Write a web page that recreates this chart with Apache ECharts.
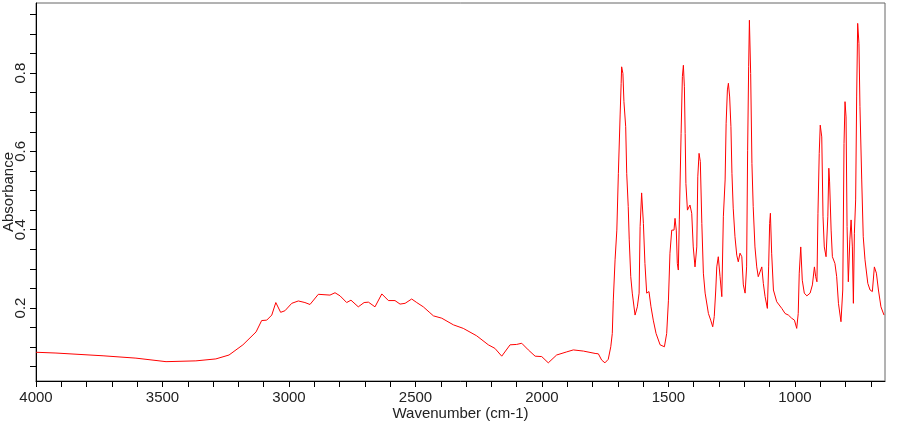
<!DOCTYPE html>
<html>
<head>
<meta charset="utf-8">
<script src="https://cdn.jsdelivr.net/npm/echarts@6/dist/echarts.min.js"></script>
<style>
  html, body { margin: 0; padding: 0; background: #fff; }
  #chart { width: 900px; height: 425px; }
</style>
</head>
<body>
<div id="chart"></div>
<script>
// IR spectrum (cm-1 / absorbance)
const wavenumbers = [
  4000, 3921, 3735, 3605, 3486, 3368, 3289, 3237, 3182, 3130,
  3108, 3088, 3068, 3052, 3033, 3016, 2989, 2963, 2937, 2917,
  2884, 2838, 2818, 2798, 2772, 2755, 2726, 2703, 2686, 2660,
  2633, 2607, 2581, 2561, 2541, 2515, 2495, 2469, 2443,
  2429, 2396, 2350, 2311, 2258, 2212, 2186, 2159, 2126, 2100,
  2080, 2054, 2027, 2001, 1975, 1942, 1902, 1876, 1836,
  1790, 1777, 1764, 1751, 1738, 1728, 1722, 1718, 1711, 1704,
  1698, 1691, 1687, 1685, 1680, 1676, 1669, 1665, 1659, 1655,
  1649, 1643, 1632, 1623, 1616, 1612, 1606, 1599, 1593, 1586,
  1577, 1569, 1560, 1549, 1533, 1516, 1507, 1500, 1494, 1487,
  1478, 1474, 1469, 1465, 1461, 1457, 1450, 1445, 1441, 1437,
  1434, 1431, 1425, 1415, 1408, 1402, 1395,
  1388, 1384, 1379, 1374, 1368, 1362, 1355, 1342, 1333, 1325,
  1319, 1313, 1309, 1303, 1296, 1289, 1283, 1276, 1272, 1267,
  1263, 1258, 1253, 1249, 1244, 1237, 1230, 1224, 1217, 1210,
  1204, 1197, 1191, 1187, 1183, 1180, 1175, 1170, 1165, 1158,
  1151, 1145, 1138, 1131, 1125, 1118, 1109, 1104, 1100, 1097,
  1092, 1085, 1072, 1052, 1039,
  1026, 1013, 1002, 993, 987, 983, 977, 971, 963, 953,
  940, 931, 923, 918, 913, 909, 904, 900, 894, 889,
  884, 877, 870, 866, 863, 857, 852, 842, 835, 828,
  818, 811, 806, 802, 798, 794, 789, 783, 778, 773,
  769, 765, 760, 756, 752, 747, 743, 736, 730, 723,
  712, 703, 694, 686, 678, 670, 660, 648
];
const absorbance = [
  0.087, 0.085, 0.078, 0.072, 0.063, 0.065, 0.070, 0.080, 0.106, 0.139,
  0.168, 0.169, 0.182, 0.214, 0.189, 0.193, 0.212, 0.218, 0.214, 0.209,
  0.235, 0.233, 0.239, 0.231, 0.214, 0.220, 0.203, 0.214, 0.215, 0.203,
  0.236, 0.219, 0.219, 0.210, 0.212, 0.223, 0.214, 0.203, 0.188,
  0.180, 0.174, 0.157, 0.148, 0.129, 0.106, 0.097, 0.077, 0.106, 0.107,
  0.110, 0.093, 0.077, 0.076, 0.060, 0.080, 0.088, 0.093, 0.090,
  0.084, 0.083, 0.067, 0.060, 0.069, 0.101, 0.135, 0.220, 0.323, 0.399,
  0.544, 0.693, 0.774, 0.816, 0.799, 0.727, 0.663, 0.544, 0.459, 0.374,
  0.280, 0.238, 0.182, 0.203, 0.238, 0.408, 0.494, 0.416, 0.314, 0.238,
  0.242, 0.203, 0.169, 0.135, 0.106, 0.101, 0.135, 0.220, 0.340, 0.399,
  0.399, 0.429, 0.399, 0.314, 0.297, 0.425, 0.646, 0.791, 0.820, 0.765,
  0.646, 0.518, 0.450, 0.463, 0.442, 0.356, 0.305,
  0.356, 0.535, 0.595, 0.574, 0.416, 0.289, 0.238, 0.186, 0.169, 0.152,
  0.178, 0.246, 0.305, 0.331, 0.280, 0.229, 0.433, 0.527, 0.672, 0.757,
  0.774, 0.739, 0.663, 0.544, 0.455, 0.382, 0.335, 0.318, 0.340, 0.331,
  0.259, 0.238, 0.305, 0.603, 0.816, 0.935, 0.799, 0.569, 0.459, 0.356,
  0.305, 0.280, 0.276, 0.305, 0.263, 0.229, 0.199, 0.305, 0.416, 0.442,
  0.340, 0.246, 0.216, 0.199, 0.186,
  0.182, 0.174, 0.169, 0.148, 0.186, 0.289, 0.356, 0.271, 0.238, 0.231,
  0.238, 0.259, 0.305, 0.280, 0.267, 0.442, 0.595, 0.667, 0.637, 0.433,
  0.356, 0.331, 0.433, 0.557, 0.522, 0.399, 0.331, 0.314, 0.280, 0.212,
  0.165, 0.246, 0.620, 0.727, 0.688, 0.408, 0.267, 0.374, 0.425, 0.356,
  0.212, 0.391, 0.476, 0.739, 0.927, 0.876, 0.714, 0.527, 0.382, 0.323,
  0.263, 0.246, 0.242, 0.305, 0.289, 0.246, 0.203, 0.182
];

// axis ticks and labels
const xTicks = [];
for (let v = 700; v <= 4000; v += 100) xTicks.push(v);
const xLabels = [1000, 1500, 2000, 2500, 3000, 3500, 4000];
const yTicks = [0.05, 0.1, 0.15, 0.2, 0.25, 0.3, 0.35, 0.4, 0.45, 0.5,
                0.55, 0.6, 0.65, 0.7, 0.75, 0.8, 0.85, 0.9, 0.95];
const yLabels = [0.2, 0.4, 0.6, 0.8];

const spectrum = wavenumbers.map((w, i) => [w, absorbance[i]]);

const chart = echarts.init(document.getElementById('chart'));
const font = 'Liberation Sans, Arial, sans-serif';

chart.setOption({
  animation: false,
  grid: {
    left: 36, right: 15, top: 3, bottom: 44,
    containLabel: false,
    outerBoundsMode: 'none',
    show: true, borderColor: '#666', borderWidth: 1
  },
  xAxis: {
    type: 'value',
    inverse: true,
    min: 644,
    max: 4000,
    name: 'Wavenumber (cm-1)',
    nameLocation: 'middle',
    nameGap: 25,
    nameMoveOverlap: false,
    nameTextStyle: { color: '#222', fontSize: 15, fontFamily: font },
    axisLine: { show: true, lineStyle: { color: '#000', width: 1 } },
    axisTick: { show: true, length: 6, customValues: xTicks, lineStyle: { color: '#000' } },
    axisLabel: {
      customValues: xLabels,
      formatter: v => String(v),
      margin: 9,
      color: '#222', fontSize: 15, fontFamily: font
    },
    splitLine: { show: false }
  },
  yAxis: {
    type: 'value',
    min: 0.0136,
    max: 0.979,
    name: 'Absorbance',
    nameLocation: 'middle',
    nameGap: 20,
    nameRotate: 90,
    nameMoveOverlap: false,
    nameTextStyle: { color: '#222', fontSize: 15, fontFamily: font },
    axisLine: { show: true, lineStyle: { color: '#000', width: 1 } },
    axisTick: { show: true, length: 6, customValues: yTicks, lineStyle: { color: '#000' } },
    axisLabel: {
      customValues: yLabels,
      formatter: v => String(v),
      rotate: 90,
      margin: 8,
      color: '#222', fontSize: 15, fontFamily: font
    },
    splitLine: { show: false }
  },
  series: [{
    type: 'line',
    data: spectrum,
    showSymbol: false,
    lineStyle: { color: '#ff0000', width: 1 },
    itemStyle: { color: '#ff0000' }
  }]
});
</script>
</body>
</html>
